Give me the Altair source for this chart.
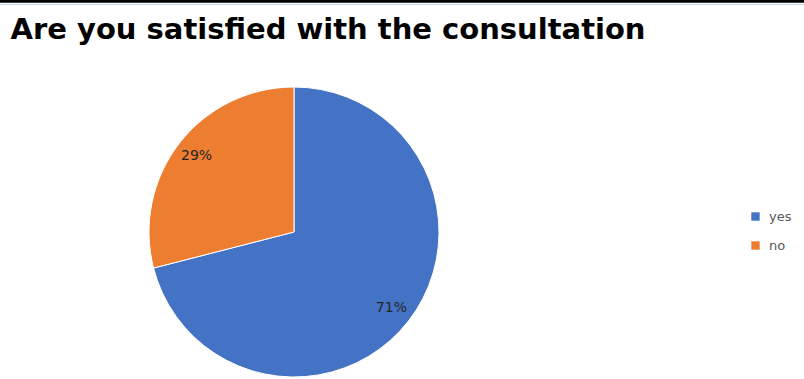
import altair as alt
import pandas as pd

categories = ["yes", "no"]
values = [71, 29]
labels = ["71%", "29%"]
colors = ["#4472C4", "#ED7D31"]
title_text = "Are you satisfied with the consultation"

df = pd.DataFrame({
    "answer": categories,
    "value": values,
    "label": labels,
    "order": list(range(len(categories))),
})

W, H = 804, 379
CX, CY, R = 294, 232, 145

base = alt.Chart(df).encode(
    theta=alt.Theta("value:Q", stack=True),
    order=alt.Order("order:Q"),
    x=alt.value(CX),
    y=alt.value(CY),
)

pie = base.mark_arc(radius=R, stroke="white", strokeWidth=1).encode(
    color=alt.Color(
        "answer:N",
        scale=alt.Scale(domain=categories, range=colors),
        sort=categories,
        legend=alt.Legend(
            title=None,
            orient="none",
            legendX=749,
            legendY=210,
            symbolType="square",
            symbolSize=70,
            symbolStrokeWidth=0,
            labelFont="DejaVu Sans",
            labelFontSize=13,
            labelColor="#595959",
            labelOffset=7,
            rowPadding=15,
            padding=0,
        ),
    )
)

text = base.mark_text(
    radius=R * 0.85,
    font="DejaVu Sans",
    fontSize=14,
    color="#262626",
).encode(text="label:N")

top_line = alt.Chart(df).mark_rule(color="black", strokeWidth=3).encode(
    x=alt.value(0), x2=alt.value(W), y=alt.value(1)
)
blue_line = alt.Chart(df).mark_rule(color="#c9d7ee", strokeWidth=1).encode(
    x=alt.value(0), x2=alt.value(W), y=alt.value(4.5)
)

chart = alt.layer(top_line, blue_line, pie, text).properties(
    width=W,
    height=H,
    padding=0,
    autosize=alt.AutoSizeParams(type="none"),
    title=alt.TitleParams(
        text=title_text,
        anchor="start",
        orient="top",
        font="DejaVu Sans",
        fontSize=29,
        fontWeight="bold",
        color="black",
        offset=-45,
        dx=12,
    ),
).configure_view(stroke=None)

chart.save("out.html", embed_options={"renderer": "svg", "actions": False})
